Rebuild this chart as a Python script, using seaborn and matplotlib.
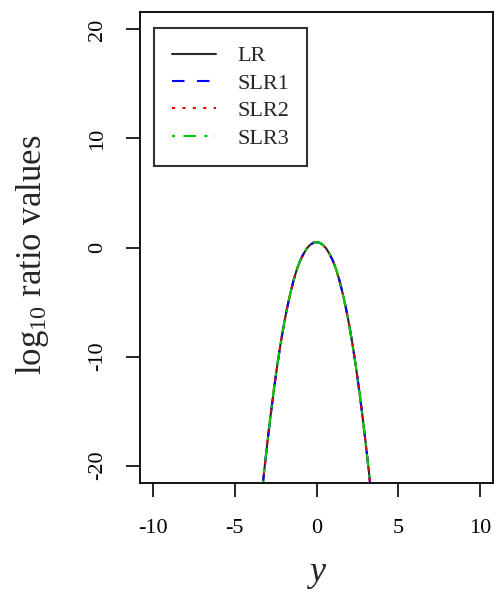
import numpy as np
import pandas as pd
import matplotlib
matplotlib.use("Agg")
import matplotlib.pyplot as plt
import seaborn as sns

# ---- data ----
y_grid = [-3.6, -3.4, -3.2, -3.0, -2.8, -2.6, -2.4, -2.2, -2.0, -1.8, -1.6, -1.4,
          -1.2, -1.0, -0.8, -0.6, -0.4, -0.2, 0.0, 0.2, 0.4, 0.6, 0.8, 1.0,
          1.2, 1.4, 1.6, 1.8, 2.0, 2.2, 2.4, 2.6, 2.8, 3.0, 3.2, 3.4, 3.6]
lr_vals = [-26.5, -23.4, -20.5, -17.8, -15.3, -12.95, -10.8, -8.85, -7.1, -5.55, -4.2, -3.0,
           -2.0, -1.2, -0.6, -0.1, 0.23, 0.43, 0.5, 0.43, 0.23, -0.1, -0.6, -1.2,
           -2.0, -3.0, -4.2, -5.55, -7.1, -8.85, -10.8, -12.95, -15.3, -17.8, -20.5, -23.4, -26.5]
slr1_vals = list(lr_vals)
slr2_vals = list(lr_vals)
slr3_vals = list(lr_vals)
series_names = ["LR", "SLR1", "SLR2", "SLR3"]
x_ticks = [-10, -5, 0, 5, 10]
x_tick_labels = ["-10", "-5", "0", "5", "10"]
y_ticks = [-20, -10, 0, 10, 20]
y_tick_labels = ["-20", "-10", "0", "10", "20"]

sns.set_style("ticks")
plt.rcParams["font.family"] = ["Liberation Serif", "DejaVu Serif"]
plt.rcParams["mathtext.fontset"] = "custom"
plt.rcParams["mathtext.rm"] = "Liberation Serif"
plt.rcParams["mathtext.it"] = "Liberation Serif:italic"
plt.rcParams["axes.unicode_minus"] = False

fig = plt.figure(figsize=(4.97, 5.92), dpi=100)
ax = fig.add_axes([140 / 497, 1 - 483 / 592, 353 / 497, 471 / 592])

styles = {
    "LR": dict(color="#2a2a2a", linestyle="-"),
    "SLR1": dict(color="#0000ff", linestyle=(0, (6, 6))),
    "SLR2": dict(color="#ff0000", linestyle=(0, (1.5, 3.5))),
    "SLR3": dict(color="#00cc00", linestyle=(0, (1.5, 4, 6, 4))),
}
data = {"LR": lr_vals, "SLR1": slr1_vals, "SLR2": slr2_vals, "SLR3": slr3_vals}
for name in series_names:
    df = pd.DataFrame({"y": y_grid, "v": data[name]})
    sns.lineplot(data=df, x="y", y="v", ax=ax, label=name, linewidth=1.5,
                 **styles[name])

ax.set_xlim(-10.8, 10.8)
ax.set_ylim(-21.6, 21.6)
ax.set_xticks(x_ticks, x_tick_labels)
ax.set_yticks(y_ticks, y_tick_labels)
ax.tick_params(axis="both", labelsize=16, length=10, width=1.2, colors="black")
ax.tick_params(axis="x", pad=16)
ax.tick_params(axis="y", pad=14)
for lab in ax.get_yticklabels():
    lab.set_rotation(90)
    lab.set_va("center")
for sp in ax.spines.values():
    sp.set_visible(True)
    sp.set_linewidth(1.3)
    sp.set_color("black")

ax.set_xlabel("$y$", fontsize=26, labelpad=14)
ax.set_ylabel("log$_{10}$ ratio values", fontsize=25)
ax.yaxis.set_label_coords(-0.253, 0.484)

leg = ax.legend(loc="upper left", bbox_to_anchor=(14 / 353, 1 - 16 / 471),
                borderaxespad=0, fontsize=16, handlelength=2.0, handletextpad=0.95,
                labelspacing=0.31, borderpad=0.8, fancybox=False, framealpha=1)
leg.get_frame().set_edgecolor("#333333")
leg.get_frame().set_linewidth(1.5)

fig.savefig("out.png", dpi=100)
